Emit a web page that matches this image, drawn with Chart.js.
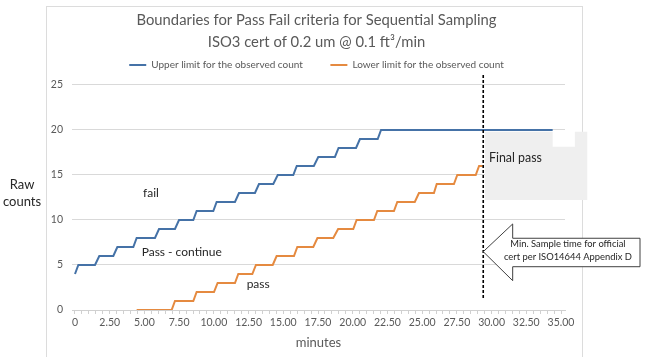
<!DOCTYPE html>
<html>
<head>
<meta charset="utf-8">
<script src="https://cdn.jsdelivr.net/npm/chart.js@4/dist/chart.umd.min.js"></script>
<style>
  html, body { margin: 0; padding: 0; background: #ffffff; }
  #wrap { width: 650px; height: 357px; position: relative; }
</style>
</head>
<body>
<div id="wrap"><canvas id="c" width="650" height="357"></canvas></div>
<script>
// ---- data ----
const titleLines = ['Boundaries for Pass Fail criteria for Sequential Sampling', 'ISO3 cert of 0.2 um @ 0.1 ft\u00B3/min'];
const seriesNames = ['Upper limit for the observed count', 'Lower limit for the observed count'];
const xTickLabels = ['0', '2.50', '5.00', '7.50', '10.00', '12.50', '15.00', '17.50', '20.00', '22.50', '25.00', '27.50', '30.00', '32.50', '35.00'];
const yTickValues = [0, 5, 10, 15, 20, 25];

const upperMinutes = [0, 0.24, 1.44, 1.75, 2.76, 3.05, 4.2, 4.44, 5.76, 6.05, 7.2, 7.49, 8.52, 8.76, 9.96, 10.2, 11.52, 11.81, 12.96, 13.25, 14.28, 14.6, 15.72, 15.97, 17.2, 17.52, 18.72, 18.98, 20.24, 20.52, 21.8, 22.04, 34.4];
const upperCounts  = [4, 5, 5, 6, 6, 7, 7, 8, 8, 9, 9, 10, 10, 11, 11, 12, 12, 13, 13, 14, 14, 15, 15, 16, 16, 17, 17, 18, 18, 19, 19, 20, 20];

const lowerMinutes = [4.44, 6.96, 7.2, 8.52, 8.76, 10.01, 10.27, 11.52, 11.76, 12.77, 13.03, 14.24, 14.52, 15.77, 16.01, 17.16, 17.46, 18.6, 18.95, 20.04, 20.28, 21.53, 21.77, 22.97, 23.21, 24.47, 24.77, 25.85, 26.05, 27.29, 27.53, 28.86, 29.1, 29.37];
const lowerCounts  = [0, 0, 1, 1, 2, 2, 3, 3, 4, 4, 5, 5, 6, 6, 7, 7, 8, 8, 9, 9, 10, 10, 11, 11, 12, 12, 13, 13, 14, 14, 15, 15, 16, 16];

const minSampleTime = 29.4;   // minutes, vertical dashed line

// ---- styling ----
const FONT = 'Lato, "Open Sans", sans-serif';
const GREY_TEXT = '#595959';
const DARK_TEXT = '#262626';
const BLUE = '#4572a7';
const ORANGE = '#e58a40';
const LEGEND_EXTRA_HEIGHT = 5;
const HEADER_SHIFT_X = 34;   // title + legend are centred on the whole chart box, not just the plot

const toPoints = (xs, ys) => xs.map((x, i) => ({ x: x, y: ys[i] }));
const xTickValues = xTickLabels.map(s => parseFloat(s));

const layoutPatch = {
  id: 'layoutPatch',
  beforeInit(chart) {
    const origFit = chart.legend.fit;
    chart.legend.fit = function () {
      origFit.call(this);
      this.height += LEGEND_EXTRA_HEIGHT;
    };
  },
  afterLayout(chart) {
    [chart.titleBlock, chart.legend].forEach(b => {
      if (b) { b.left += HEADER_SHIFT_X; b.right += HEADER_SHIFT_X; }
    });
  }
};

const annotations = {
  id: 'annotations',
  beforeDraw(chart) {
    const ctx = chart.ctx;
    ctx.save();
    ctx.fillStyle = '#ffffff';
    ctx.fillRect(0, 0, chart.width, chart.height);
    ctx.strokeStyle = '#dcdcdc';
    ctx.lineWidth = 1;
    ctx.strokeRect(46.5, 6.5, 536, 360);
    ctx.restore();
  },
  beforeDatasetsDraw(chart) {
    const ctx = chart.ctx, xs = chart.scales.x, ys = chart.scales.y;
    const X = v => xs.getPixelForValue(v), Y = v => ys.getPixelForValue(v);
    // grey "Final pass" box with white notch
    ctx.save();
    ctx.fillStyle = '#efefef';
    ctx.beginPath();
    ctx.moveTo(X(29.53), Y(19.81));
    ctx.lineTo(X(34.4), Y(19.81));
    ctx.lineTo(X(34.4), Y(18.14));
    ctx.lineTo(X(36.0), Y(18.14));
    ctx.lineTo(X(36.0), Y(19.81));
    ctx.lineTo(X(36.89), Y(19.81));
    ctx.lineTo(X(36.89), Y(12.22));
    ctx.lineTo(X(29.53), Y(12.22));
    ctx.closePath();
    ctx.fill();
    ctx.restore();
  },
  afterDatasetsDraw(chart) {
    const ctx = chart.ctx, xs = chart.scales.x, ys = chart.scales.y;
    const X = v => xs.getPixelForValue(v), Y = v => ys.getPixelForValue(v);
    ctx.save();
    // dashed vertical line
    ctx.strokeStyle = '#000000';
    ctx.lineWidth = 1.6;
    ctx.setLineDash([3, 2]);
    ctx.beginPath();
    ctx.moveTo(X(minSampleTime), Y(26.1));
    ctx.lineTo(X(minSampleTime), Y(1.33));
    ctx.stroke();
    ctx.setLineDash([]);

    // region texts
    ctx.fillStyle = DARK_TEXT;
    ctx.textBaseline = 'middle';
    ctx.textAlign = 'left';
    ctx.font = '12px ' + FONT;
    ctx.fillText('fail', X(4.9), Y(13.0));
    ctx.fillText('Pass - continue', X(4.8), Y(6.4));
    ctx.fillText('pass', X(12.36), Y(2.9));
    ctx.font = '12.4px ' + FONT;
    ctx.fillText('Final pass', X(29.81), Y(16.86));

    // arrow callout
    ctx.beginPath();
    ctx.moveTo(X(29.4), Y(6.48));
    ctx.lineTo(X(31.52), Y(9.56));
    ctx.lineTo(X(31.52), Y(7.97));
    ctx.lineTo(X(40.69), Y(7.97));
    ctx.lineTo(X(40.69), Y(4.81));
    ctx.lineTo(X(31.52), Y(4.81));
    ctx.lineTo(X(31.52), Y(3.26));
    ctx.closePath();
    ctx.fillStyle = '#ffffff';
    ctx.fill();
    ctx.strokeStyle = '#404040';
    ctx.lineWidth = 1;
    ctx.stroke();
    ctx.fillStyle = DARK_TEXT;
    ctx.textAlign = 'center';
    ctx.font = '9.4px ' + FONT;
    ctx.fillText('Min. Sample time for official', X(35.5), Y(7.33));
    ctx.fillText('cert per ISO14644 Appendix D', X(35.5), Y(5.92));

    // y axis caption (horizontal, two lines)
    ctx.font = '13px ' + FONT;
    ctx.fillText('Raw', 22, Y(13.9));
    ctx.fillText('counts', 22, Y(12.05));
    ctx.restore();
  }
};

new Chart(document.getElementById('c'), {
  type: 'line',
  data: {
    datasets: [
      { label: seriesNames[0], data: toPoints(upperMinutes, upperCounts), borderColor: BLUE, backgroundColor: BLUE, borderWidth: 2, pointRadius: 0, tension: 0 },
      { label: seriesNames[1], data: toPoints(lowerMinutes, lowerCounts), borderColor: ORANGE, backgroundColor: ORANGE, borderWidth: 2, pointRadius: 0, tension: 0 }
    ]
  },
  options: {
    responsive: false,
    animation: false,
    layout: { padding: { left: 0, right: 85, top: 0, bottom: 0 } },
    plugins: {
      title: {
        display: true,
        text: titleLines,
        color: GREY_TEXT,
        font: { family: FONT, size: 14.8, weight: 'normal', lineHeight: 1.486 },
        padding: { top: 9, bottom: 2 }
      },
      legend: {
        display: true,
        labels: {
          usePointStyle: true,
          pointStyle: 'line',
          pointStyleWidth: 17,
          color: GREY_TEXT,
          font: { family: FONT, size: 10 },
          padding: 5,
          generateLabels(chart) {
            const items = Chart.defaults.plugins.legend.labels.generateLabels(chart);
            if (items.length) items[0].text = items[0].text + '\u2003\u2003\u2003';
            return items;
          }
        }
      },
      tooltip: { enabled: false }
    },
    scales: {
      x: {
        type: 'linear',
        min: -0.216,
        max: 35.288,
        afterBuildTicks(scale) {
          const t = [];
          for (let v = 0; v <= 35.0001; v += 0.5) t.push({ value: Math.round(v * 10) / 10 });
          scale.ticks = t;
        },
        afterFit(scale) { scale.height = 47; },
        ticks: {
          autoSkip: false,
          maxRotation: 0,
          color: GREY_TEXT,
          font: { family: FONT, size: 10.5 },
          padding: 2,
          callback(value) {
            const i = xTickValues.findIndex(v => Math.abs(v - value) < 1e-6);
            return i >= 0 ? xTickLabels[i] : '';
          }
        },
        grid: { drawOnChartArea: false, drawTicks: true, tickLength: 4, color: '#d0d0d0' },
        border: { display: true, color: '#d0d0d0' },
        title: { display: true, text: 'minutes', color: GREY_TEXT, font: { family: FONT, size: 13 }, padding: { top: 2, bottom: 6 } }
      },
      y: {
        min: 0,
        max: 25,
        afterBuildTicks(scale) { scale.ticks = yTickValues.map(v => ({ value: v })); },
        afterFit(scale) { scale.width = 72; },
        ticks: { color: GREY_TEXT, font: { family: FONT, size: 10.5 }, padding: 9 },
        grid: { color: '#d9d9d9', drawTicks: false },
        border: { display: false }
      }
    }
  },
  plugins: [layoutPatch, annotations]
});
</script>
</body>
</html>
